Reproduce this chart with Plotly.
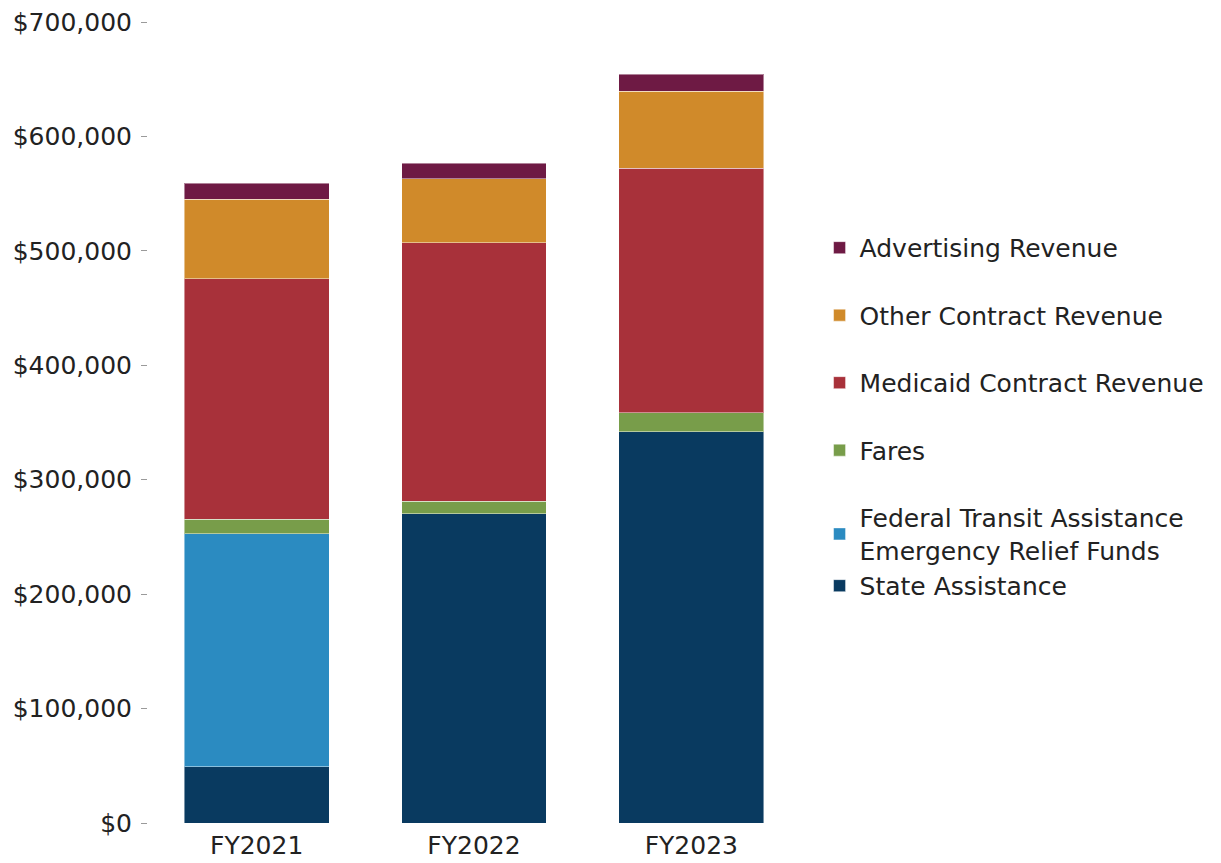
import plotly.graph_objects as go

years = ["FY2021", "FY2022", "FY2023"]

state_assistance = [49300, 270100, 342100]
federal_relief = [203700, 0, 0]
fares = [12500, 11100, 16600]
medicaid = [210000, 226100, 213300]
other_contract = [69400, 55900, 67300]
advertising = [14200, 13400, 14900]

series = [
    ("State Assistance", state_assistance, "#093A60", "assist"),
    ("Federal Transit Assistance<br>Emergency Relief Funds", federal_relief, "#2B8BC1", "assist"),
    ("Fares", fares, "#789D4A", "fares"),
    ("Medicaid Contract Revenue", medicaid, "#A8313A", "medicaid"),
    ("Other Contract Revenue", other_contract, "#D08A2A", "other"),
    ("Advertising Revenue", advertising, "#6E1A44", "adv"),
]

FONT = "DejaVu Sans"
SIZE = 25

fig = go.Figure()
for i, (name, vals, color, group) in enumerate(series):
    fig.add_trace(go.Bar(
        x=years, y=vals, name=name,
        marker=dict(color=color, line=dict(color="rgba(255,255,255,0.45)", width=1)),
        legendgroup=group,
        legendrank=100 - i,  # top of the stack listed first
        hovertemplate="%{x}: $%{y:,.0f}<extra></extra>",
    ))

fig.update_layout(
    barmode="stack",
    bargap=0.333,
    width=1221, height=863,
    margin=dict(l=148, r=421, t=22, b=40),
    paper_bgcolor="white",
    plot_bgcolor="white",
    font=dict(family=FONT, size=SIZE, color="#222222"),
    legend=dict(
        traceorder="grouped",
        tracegroupgap=32,
        x=1.03, xanchor="left",
        y=0.507, yanchor="middle",
        font=dict(family=FONT, size=SIZE, color="#222222"),
        itemwidth=30,
    ),
    xaxis=dict(showline=False, showgrid=False, ticks="", ticklabelstandoff=5,
               automargin=False, tickfont=dict(size=SIZE)),
    yaxis=dict(
        range=[0, 700000],
        tickvals=[0, 100000, 200000, 300000, 400000, 500000, 600000, 700000],
        ticktext=["$0", "$100,000", "$200,000", "$300,000", "$400,000",
                  "$500,000", "$600,000", "$700,000"],
        showgrid=False, zeroline=False, showline=False,
        ticks="outside", ticklen=6, tickcolor="#9a9a9a", tickwidth=1,
        ticklabelstandoff=4, automargin=False,
        tickfont=dict(size=SIZE),
    ),
)

fig.write_html("out.html")
